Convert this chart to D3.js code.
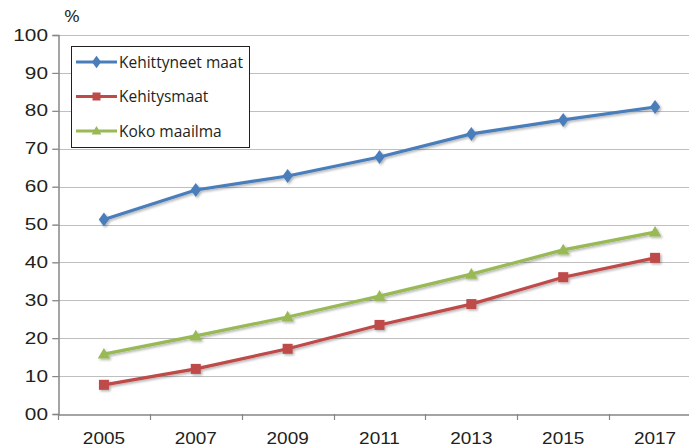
<!DOCTYPE html>
<html>
<head>
<meta charset="utf-8">
<script src="https://cdn.jsdelivr.net/npm/d3@7"></script>
<style>
  body { margin: 0; background: #fff; }
  svg { display: block; font-family: "Open Sans", "Liberation Sans", sans-serif; }
</style>
</head>
<body>
<div id="chart"></div>
<script>
const years = ["2005", "2007", "2009", "2011", "2013", "2015", "2017"];
const developed = [51.3, 59.1, 62.8, 67.8, 73.9, 77.6, 81.0];
const developing = [7.7, 11.9, 17.2, 23.5, 29.0, 36.1, 41.2];
const world = [15.8, 20.6, 25.6, 31.1, 36.9, 43.3, 48.0];
const yTicks = [0, 10, 20, 30, 40, 50, 60, 70, 80, 90, 100];
const yTickLabels = ["00", "10", "20", "30", "40", "50", "60", "70", "80", "90", "100"];

const series = [
  {name: "Kehittyneet maat", values: developed, color: "#4a7ebb", marker: "diamond"},
  {name: "Kehitysmaat", values: developing, color: "#be4b48", marker: "square"},
  {name: "Koko maailma", values: world, color: "#98b954", marker: "triangle"}
];

const w = 689, h = 447;
const plotLeft = 58, plotRight = 701, plotTop = 35, plotBottom = 414;

const svg = d3.select("#chart").append("svg")
    .attr("width", w)
    .attr("height", h);

const defs = svg.append("defs");
const shadow = defs.append("filter").attr("id", "shadow")
    .attr("x", "-50%").attr("y", "-50%").attr("width", "200%").attr("height", "200%");
shadow.append("feDropShadow")
    .attr("dx", 1.5).attr("dy", 1.5).attr("stdDeviation", 1.2)
    .attr("flood-color", "#000").attr("flood-opacity", 0.3);

const x = d3.scaleBand().domain(years).range([plotLeft, plotRight]);
const y = d3.scaleLinear().domain([0, 100]).range([plotBottom, plotTop]);

// gridlines
svg.append("g")
  .selectAll("line")
  .data(yTicks.filter(d => d > 0))
  .enter().append("line")
    .attr("x1", plotLeft - 6).attr("x2", w)
    .attr("y1", d => Math.round(y(d)) + 0.5)
    .attr("y2", d => Math.round(y(d)) + 0.5)
    .style("stroke", "#bfbfbf")
    .style("stroke-width", 1.2);

// y axis
const ySx = 1.3;
const yAxis = svg.append("g")
    .attr("transform", "translate(" + (plotLeft + 0.5) + ",0)")
    .call(d3.axisLeft(y).tickValues(yTicks).tickSize(6).tickPadding(5)
      .tickFormat((d, i) => yTickLabels[i]));
yAxis.select(".domain").style("stroke", "#868686").style("stroke-width", 1.5);
yAxis.selectAll(".tick line").style("stroke", "#868686").style("stroke-width", 1.2);
yAxis.selectAll("text")
    .attr("x", -10.5 / ySx)
    .attr("transform", "scale(" + ySx + ",1)")
    .style("font-size", "16px")
    .style("fill", "#231f20");

// x axis
const xSx = 1.15;
const xAxis = svg.append("g")
    .attr("transform", "translate(0," + (plotBottom + 0.5) + ")")
    .call(d3.axisBottom(x).tickSize(0).tickPadding(18));
xAxis.select(".domain").style("stroke", "#868686").style("stroke-width", 1.5);
xAxis.selectAll(".tick").each(function() {
  const t = d3.select(this).attr("transform");
  d3.select(this).attr("transform", t + " scale(" + xSx + ",1)");
});
xAxis.selectAll("text")
    .style("font-size", "16.5px")
    .style("fill", "#231f20");

// x ticks between categories
svg.append("g")
  .selectAll("line")
  .data(years)
  .enter().append("line")
    .attr("x1", d => Math.round(x(d)) + 0.5)
    .attr("x2", d => Math.round(x(d)) + 0.5)
    .attr("y1", plotBottom)
    .attr("y2", plotBottom + 6)
    .style("stroke", "#868686")
    .style("stroke-width", 1.2);

svg.append("text")
    .attr("x", 72 / 1.2).attr("y", 22)
    .attr("transform", "scale(1.2,1)")
    .attr("text-anchor", "middle")
    .style("font-size", "16px")
    .style("fill", "#231f20")
    .text("%");

function drawMarker(g, type, color, size) {
  if (type === "diamond") {
    g.append("path").attr("d", d3.symbol(d3.symbolDiamond, size * 7)())
      .attr("transform", "scale(1.15,0.9)")
      .style("fill", color);
  } else if (type === "square") {
    g.append("rect").attr("x", -size / 2).attr("y", -size / 2)
      .attr("width", size).attr("height", size).style("fill", color);
  } else {
    g.append("path").attr("d", "M0," + (-size * 0.62) + "L" + (size * 0.62) + "," + (size * 0.45) +
      "L" + (-size * 0.62) + "," + (size * 0.45) + "Z").style("fill", color);
  }
}

const line = d3.line()
    .x((d, i) => x(years[i]) + x.bandwidth() / 2)
    .y(d => y(d));

series.forEach(s => {
  const g = svg.append("g").attr("filter", "url(#shadow)");
  g.append("path")
    .datum(s.values)
    .attr("d", line)
    .style("fill", "none")
    .style("stroke", s.color)
    .style("stroke-width", 3.2);
  s.values.forEach((v, i) => {
    const m = g.append("g")
      .attr("transform", "translate(" + (x(years[i]) + x.bandwidth() / 2) + "," + y(v) + ")");
    drawMarker(m, s.marker, s.color, 10);
  });
});

// legend
const legend = svg.append("g");
legend.append("rect")
    .attr("x", 71.5).attr("y", 46.5)
    .attr("width", 178).attr("height", 101)
    .style("fill", "#fff")
    .style("stroke", "#231f20")
    .style("stroke-width", 1);

series.forEach((s, i) => {
  const ly = 62 + i * 34.5;
  const g = legend.append("g");
  g.append("line")
    .attr("x1", 76).attr("x2", 117)
    .attr("y1", ly).attr("y2", ly)
    .style("stroke", s.color).style("stroke-width", 3);
  const m = g.append("g").attr("transform", "translate(96.5," + ly + ")");
  drawMarker(m, s.marker, s.color, 8);
  g.append("text")
    .attr("x", 119).attr("y", ly + 5.5)
    .style("font-size", "15.5px")
    .style("fill", "#231f20")
    .text(s.name);
});
</script>
</body>
</html>
